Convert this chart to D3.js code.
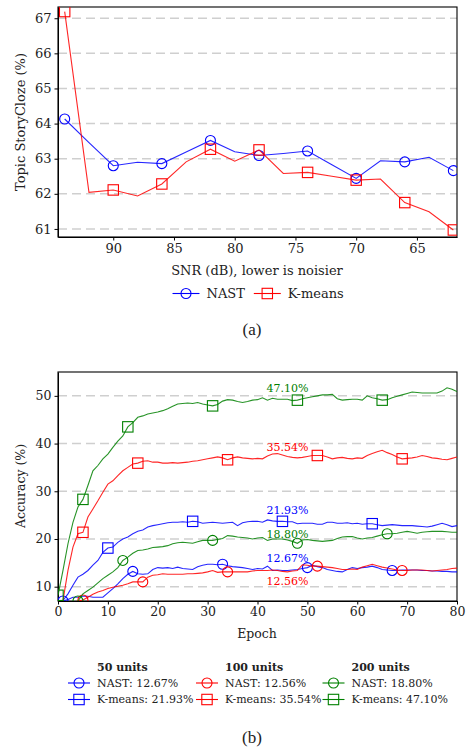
<!DOCTYPE html>
<html>
<head>
<meta charset="utf-8">
<script src="https://cdn.jsdelivr.net/npm/d3@7"></script>
<style>
  body { margin: 0; background: #fff; }
  text { font-family: "DejaVu Serif", serif; fill: #222; }
  .grid line { stroke: #cfcfcf; stroke-width: 1.5; stroke-dasharray: 9,5; }
  .axis path, .axis line { stroke: #000; }
  .caption { font-family: "Liberation Serif", serif; font-size: 17px; }
</style>
</head>
<body>
<div id="chart"></div>
<script>
/* two panels: (a) SNR sweep, (b) accuracy per epoch */

// ---- panel (a) data
const snr = [94, 92, 90, 88, 86, 84, 82, 80, 78, 76, 74, 72, 70, 68, 66, 64, 62];
const nastSnr = [64.13, 63.46, 62.80, 62.90, 62.86, 63.19, 63.52, 63.20, 63.09, 63.15, 63.22, 62.83, 62.44, 62.94, 62.91, 63.04, 62.66];
const kmeansSnr = [67.19, 62.04, 62.11, 61.94, 62.28, 62.91, 63.27, 62.93, 63.25, 62.58, 62.61, 62.50, 62.39, 62.42, 61.75, 61.49, 60.97];
const snrTicks = [90, 85, 80, 75, 70, 65];
const storyTicks = [61, 62, 63, 64, 65, 66, 67];

// ---- panel (b) data, one value per epoch 0..80
const epochs = d3.range(0, 81);
const nast50 = [4.0, 7.0, 7.3, 7.8, 7.8, 8.0, 8.0, 7.8, 7.8, 7.8, 8.7, 9.6, 10.6, 11.7, 12.6, 13.2, 12.7, 12.6, 12.7, 13.6,
  14.0, 13.9, 14.0, 13.8, 14.1, 13.8, 13.7, 13.6, 14.2, 14.5, 14.7, 14.7, 14.6, 14.7, 14.4, 14.2, 14.1, 14.0, 13.8, 13.6,
  13.8, 13.7, 14.3, 13.4, 13.5, 13.4, 13.4, 13.5, 13.6, 13.8, 14.0, 14.5, 14.2, 14.0, 13.6, 13.4, 13.2, 13.1, 13.6, 14.0,
  13.8, 14.0, 14.1, 14.3, 14.0, 13.6, 13.5, 13.4, 13.4, 13.5, 13.5, 13.5, 13.5, 13.4, 13.4, 13.3, 13.3, 13.2, 13.2, 13.1, 13.1];
const kmeans50 = [4.0, 7.1, 8.5, 10.3, 12.0, 12.6, 13.4, 14.5, 15.5, 17.2, 18.1, 18.3, 19.3, 20.0, 20.4, 21.1, 21.6, 21.9, 22.5, 22.8,
  23.0, 23.2, 23.4, 23.5, 23.5, 23.6, 23.5, 23.7, 23.6, 23.3, 23.4, 23.5, 23.4, 23.3, 23.4, 23.5, 22.8, 23.4, 23.6, 23.7,
  23.7, 23.5, 24.0, 23.8, 23.7, 23.7, 23.6, 23.6, 23.2, 23.3, 23.3, 23.3, 23.1, 23.1, 23.5, 23.5, 23.3, 23.3, 23.4, 23.2,
  23.3, 23.1, 23.2, 23.2, 23.0, 22.8, 22.9, 23.0, 22.9, 22.8, 22.8, 22.8, 22.7, 22.6, 22.5, 22.7, 23.0, 23.3, 23.0, 22.6, 22.8];
const nast100 = [3.0, 4.0, 5.0, 6.0, 7.0, 7.2, 7.8, 8.4, 8.9, 9.2, 9.6, 9.9, 10.1, 10.3, 10.6, 11.0, 11.0, 11.0, 12.0, 12.4,
  12.5, 12.7, 12.6, 12.6, 12.6, 12.6, 12.7, 12.7, 12.8, 12.9, 13.1, 13.4, 13.0, 13.1, 13.1, 13.1, 13.1, 13.1, 13.1, 13.3,
  13.4, 13.4, 13.4, 13.5, 13.4, 13.2, 13.1, 13.3, 13.4, 14.6, 14.5, 14.3, 14.3, 14.2, 14.1, 14.0, 13.8, 13.6, 13.6, 13.7,
  13.6, 14.1, 14.4, 14.7, 14.4, 14.1, 13.9, 13.7, 13.5, 13.4, 13.4, 13.5, 13.5, 13.5, 13.4, 13.3, 13.4, 13.5, 13.6, 13.8, 13.9];
const kmeans100 = [4.0, 7.1, 13.4, 18.3, 21.1, 21.4, 24.6, 26.3, 28.0, 29.8, 31.5, 32.2, 33.3, 34.3, 35.0, 35.7, 35.9, 36.3, 36.4, 36.1,
  36.1, 35.9, 35.9, 36.0, 35.9, 36.0, 36.1, 36.3, 36.4, 36.6, 36.8, 37.0, 37.2, 37.0, 36.6, 37.0, 37.2, 37.0, 36.9, 36.8,
  36.9, 36.8, 37.4, 37.8, 37.9, 37.6, 37.3, 37.1, 37.0, 37.1, 37.3, 37.5, 37.5, 37.5, 37.2, 36.8, 37.0, 37.1, 36.9, 36.8,
  37.0, 36.9, 37.5, 37.9, 38.3, 38.6, 38.1, 37.7, 37.2, 36.8, 36.9, 37.0, 37.2, 37.5, 37.3, 37.0, 36.9, 36.7, 36.6, 36.9, 37.2];
const nast200 = [3.0, 4.0, 5.0, 6.0, 7.0, 8.5, 9.2, 9.9, 10.8, 11.7, 12.4, 13.1, 14.0, 15.5, 16.2, 17.0, 17.6, 17.7, 17.9, 18.2,
  18.3, 18.4, 18.6, 19.0, 19.2, 19.3, 19.2, 19.1, 19.4, 19.7, 19.7, 19.7, 19.9, 20.1, 20.7, 20.6, 20.4, 20.3, 20.2, 20.0,
  20.2, 20.3, 19.7, 20.0, 20.0, 20.0, 19.8, 19.5, 19.1, 19.8, 19.9, 19.7, 19.6, 19.5, 19.6, 19.7, 20.1, 20.4, 20.5, 20.5,
  20.2, 20.0, 20.2, 20.3, 20.6, 20.9, 21.1, 21.1, 21.2, 21.4, 21.6, 21.4, 21.2, 21.4, 21.5, 21.6, 21.6, 21.6, 21.5, 21.4, 21.4];
const kmeans200 = [8.2, 13.4, 19.0, 23.5, 26.7, 28.3, 31.2, 34.3, 35.4, 36.8, 37.8, 39.2, 40.5, 41.6, 43.5, 44.4, 45.5, 45.8, 46.2, 46.4,
  46.6, 46.9, 47.3, 47.8, 48.3, 48.4, 48.5, 48.4, 48.6, 48.3, 48.1, 47.9, 48.2, 48.9, 49.2, 49.1, 48.8, 48.6, 48.8, 49.1,
  49.2, 49.6, 49.1, 49.5, 49.3, 49.3, 49.3, 49.0, 49.1, 49.4, 49.6, 49.8, 50.0, 50.2, 50.2, 50.3, 49.4, 49.1, 49.2, 49.3,
  49.3, 49.1, 50.0, 49.6, 49.4, 49.1, 49.2, 49.6, 49.9, 50.2, 50.5, 50.8, 50.7, 50.6, 50.6, 50.6, 50.6, 51.0, 51.7, 51.4, 50.9];
// epochs where matplotlib put the markers
const nast50Marks = [1, 15, 33, 50, 67];
const kmeans50Marks = [10, 27, 45, 63];
const nast100Marks = [5, 17, 34, 52, 69];
const kmeans100Marks = [5, 16, 34, 52, 69];
const nast200Marks = [4, 13, 31, 48, 66];
const kmeans200Marks = [0, 5, 14, 31, 48, 65];
const finalLabels = ["12.67%", "21.93%", "12.56%", "35.54%", "18.80%", "47.10%"];
const unitGroups = ["50 units", "100 units", "200 units"];
const epochTicks = [0, 10, 20, 30, 40, 50, 60, 70, 80];
const accTicks = [10, 20, 30, 40, 50];

const width = 468, height = 749;
const colors = { blue: "#0000ff", red: "#ff0000", green: "#008000" };

const svg = d3.select("#chart")
  .append("svg")
  .attr("width", width)
  .attr("height", height);

function marker(g, shape, color, cx, cy) {
  if (shape === "circle") {
    g.append("circle")
      .attr("cx", cx).attr("cy", cy).attr("r", 5)
      .attr("fill", "none").attr("stroke", color).attr("stroke-width", 1.1);
  } else {
    g.append("rect")
      .attr("x", cx - 5.2).attr("y", cy - 5.2)
      .attr("width", 10.4).attr("height", 10.4)
      .attr("fill", "none").attr("stroke", color).attr("stroke-width", 1.1);
  }
}

function frame(x, y, xTicks, yTicks, fs, id) {
  let [x0, x1] = x.range(), [y0, y1] = y.range();

  svg.append("g")
    .attr("class", "grid")
    .selectAll("line")
    .data(yTicks)
    .join("line")
    .attr("x1", x0).attr("x2", x1)
    .attr("y1", d => y(d)).attr("y2", d => y(d));

  svg.append("defs").append("clipPath")
    .attr("id", id)
    .append("rect")
    .attr("x", x0).attr("y", y1)
    .attr("width", x1 - x0).attr("height", y0 - y1);

  svg.append("g")
    .attr("class", "axis")
    .attr("transform", `translate(0,${y0})`)
    .call(d3.axisBottom(x).tickValues(xTicks).tickFormat(d3.format("d"))
      .tickSize(3.5).tickPadding(3).tickSizeOuter(0))
    .call(g => g.selectAll("text").attr("font-size", fs).attr("fill", "#222"));

  svg.append("g")
    .attr("class", "axis")
    .attr("transform", `translate(${x0},0)`)
    .call(d3.axisLeft(y).tickValues(yTicks).tickFormat(d3.format("d"))
      .tickSize(3.5).tickPadding(3).tickSizeOuter(0))
    .call(g => g.selectAll("text").attr("font-size", fs).attr("fill", "#222"));

  // box around the axes
  svg.append("rect")
    .attr("x", x0).attr("y", y1)
    .attr("width", x1 - x0).attr("height", y0 - y1)
    .attr("fill", "none").attr("stroke", "#000").attr("stroke-width", 1.1);
}

function series(xs, ys, marks, x, y, color, shape, clipId) {
  let g = svg.append("g").attr("clip-path", `url(#${clipId})`);
  let line = d3.line().x((d, i) => x(xs[i])).y(d => y(d));
  g.append("path")
    .datum(ys)
    .attr("fill", "none")
    .attr("stroke", color)
    .attr("stroke-opacity", 0.85)
    .attr("stroke-width", 1.1)
    .attr("d", line);
  for (let i of marks) marker(g, shape, color, x(xs[i]), y(ys[i]));
}

function legendItem(cx, cy, w, color, shape, label, fs) {
  let g = svg.append("g");
  g.append("line")
    .attr("x1", cx - w / 2).attr("x2", cx + w / 2)
    .attr("y1", cy).attr("y2", cy)
    .attr("stroke", color).attr("stroke-width", 1.1);
  marker(g, shape, color, cx, cy);
  g.append("text")
    .attr("x", cx + w / 2 + 7).attr("y", cy)
    .attr("dominant-baseline", "central")
    .attr("font-size", fs)
    .text(label);
}

// ================= panel (a)
{
  let x = d3.scaleLinear().domain([94.55, 61.7]).range([58, 457]);
  let y = d3.scaleLinear().domain([60.77, 67.32]).range([237, 7]);

  frame(x, y, snrTicks, storyTicks, 13, "clipA");

  let marks = d3.range(0, snr.length, 2);
  series(snr, nastSnr, marks, x, y, colors.blue, "circle", "clipA");
  series(snr, kmeansSnr, marks, x, y, colors.red, "square", "clipA");

  svg.append("text")
    .attr("x", 257).attr("y", 270)
    .attr("text-anchor", "middle").attr("dominant-baseline", "central")
    .attr("font-size", 13)
    .text("SNR (dB), lower is noisier");

  svg.append("text")
    .attr("transform", "translate(20,122) rotate(-90)")
    .attr("text-anchor", "middle").attr("dominant-baseline", "central")
    .attr("font-size", 13)
    .text("Topic StoryCloze (%)");

  legendItem(186, 293.5, 27, colors.blue, "circle", "NAST", 13);
  legendItem(267.3, 293.5, 27, colors.red, "square", "K-means", 13);

  svg.append("text")
    .attr("class", "caption")
    .attr("x", 252).attr("y", 329.5)
    .attr("text-anchor", "middle").attr("dominant-baseline", "central")
    .text("(a)");
}

// ================= panel (b)
{
  let x = d3.scaleLinear().domain([0, 80]).range([58, 457]);
  let y = d3.scaleLinear().domain([7, 55]).range([601, 372]);

  frame(x, y, epochTicks, accTicks, 12.5, "clipB");

  let runs = [
    { ys: nast50, marks: nast50Marks, color: colors.blue, shape: "circle" },
    { ys: kmeans50, marks: kmeans50Marks, color: colors.blue, shape: "square" },
    { ys: nast100, marks: nast100Marks, color: colors.red, shape: "circle" },
    { ys: kmeans100, marks: kmeans100Marks, color: colors.red, shape: "square" },
    { ys: nast200, marks: nast200Marks, color: colors.green, shape: "circle" },
    { ys: kmeans200, marks: kmeans200Marks, color: colors.green, shape: "square" }
  ];
  for (let r of runs) series(epochs, r.ys, r.marks, x, y, r.color, r.shape, "clipB");

  // final-accuracy annotations, placed at epoch 46 above/below the curves
  let shifts = [2.5, 2.3, -2.0, 1.8, 1.2, 2.2];
  runs.forEach((r, i) => {
    svg.append("text")
      .attr("x", x(46))
      .attr("y", y(r.ys[46] + shifts[i]))
      .attr("text-anchor", "middle").attr("dominant-baseline", "central")
      .attr("font-size", 11)
      .style("fill", r.color)
      .text(finalLabels[i]);
  });

  svg.append("text")
    .attr("x", 257).attr("y", 633.5)
    .attr("text-anchor", "middle").attr("dominant-baseline", "central")
    .attr("font-size", 12.5)
    .text("Epoch");

  svg.append("text")
    .attr("transform", "translate(20,486) rotate(-90)")
    .attr("text-anchor", "middle").attr("dominant-baseline", "central")
    .attr("font-size", 12.5)
    .text("Accuracy (%)");

  // three-column legend
  let colX = [79, 207, 333.5];
  unitGroups.forEach((name, c) => {
    svg.append("text")
      .attr("x", colX[c] + 18).attr("y", 667.5)
      .attr("dominant-baseline", "central")
      .attr("font-size", 11).attr("font-weight", "bold")
      .text(name);
    let nast = runs[c * 2], km = runs[c * 2 + 1];
    legendItem(colX[c], 683, 22, nast.color, "circle", "NAST: " + finalLabels[c * 2], 11);
    legendItem(colX[c], 699.5, 22, km.color, "square", "K-means: " + finalLabels[c * 2 + 1], 11);
  });

  svg.append("text")
    .attr("class", "caption")
    .attr("x", 252).attr("y", 737)
    .attr("text-anchor", "middle").attr("dominant-baseline", "central")
    .text("(b)");
}
</script>
</body>
</html>
